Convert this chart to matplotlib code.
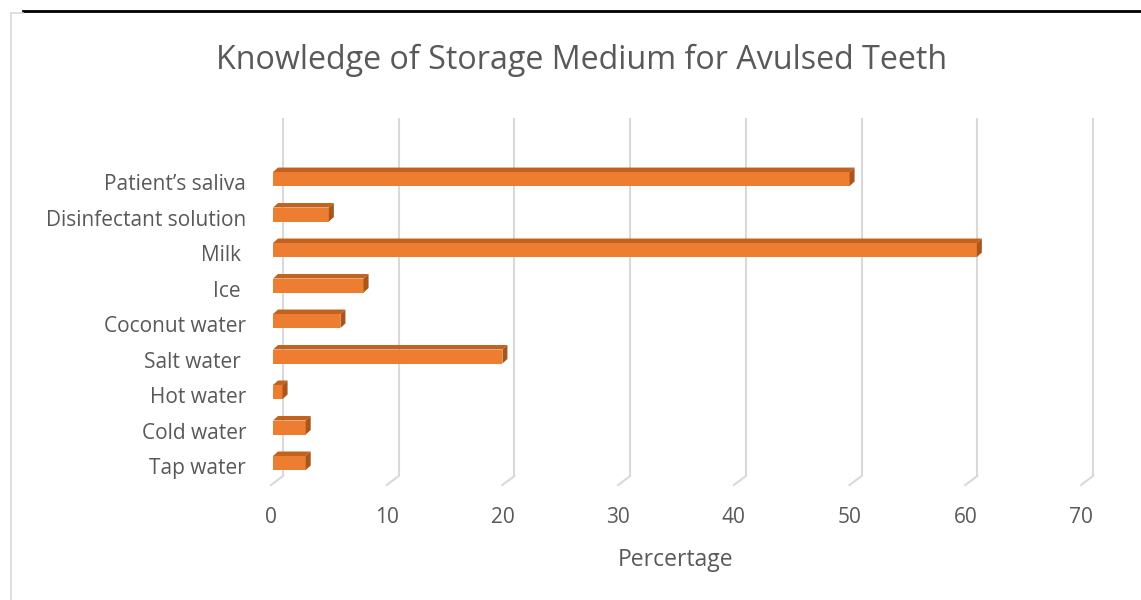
import matplotlib
matplotlib.use("Agg")
import matplotlib.pyplot as plt
from matplotlib.patches import Polygon
from matplotlib.lines import Line2D
import matplotlib.transforms as mtransforms

# ============================================
# DATA
# ============================================
categories = ["Tap water", "Cold water", "Hot water", "Salt water ", "Coconut water",
              "Ice ", "Milk ", "Disinfectant solution", "Patient\u2019s saliva"]
values = [3, 3, 1, 20, 6, 8, 61, 5, 50]
x_ticks = [0, 10, 20, 30, 40, 50, 60, 70]

title = "Knowledge of Storage Medium for Avulsed Teeth"
x_title = "Percertage"

# ============================================
# STYLE
# ============================================
plt.rcParams['font.family'] = ['Open Sans', 'DejaVu Sans']
TEXT = '#595959'
GRID = '#d9d9d9'
FRONT = '#ED7D31'
TOP = '#C2621F'
SIDE = '#A9551C'

W, H, DPI = 1141, 600, 100
fig = plt.figure(figsize=(W / DPI, H / DPI), dpi=DPI)
fig.patch.set_facecolor('white')

# plot area in pixels (front plane)
left_px, right_px, bottom_px, top_px = 271, 1081, 485, 118
ax = fig.add_axes([left_px / W, 1 - bottom_px / H,
                   (right_px - left_px) / W, (bottom_px - top_px) / H])
ax.set_xlim(0, 70)
ax.set_ylim(-0.62, 9.72)
for s in ax.spines.values():
    s.set_visible(False)
ax.set_facecolor('none')

# pixel -> data unit conversion
px_x = 70 / (right_px - left_px)
px_y = (9.72 + 0.62) / (bottom_px - top_px)

# back wall gridlines with a floor diagonal
wall_dx, wall_dy = 12 * px_x, 9 * px_y
y0, y1 = ax.get_ylim()
for t in x_ticks:
    ax.plot([t + wall_dx, t + wall_dx], [y0 + wall_dy, y1], color=GRID, lw=1.5,
            zorder=1, solid_capstyle='butt', clip_on=False)
    ax.plot([t, t + wall_dx], [y0, y0 + wall_dy], color=GRID, lw=1.5, zorder=1,
            clip_on=False)

# 3D bars
bar_h = 14 * px_y
dx, dy = 5 * px_x, 4.5 * px_y
x_start = 2 * px_x
for i, v in enumerate(values):
    ax.barh(i, v - x_start, left=x_start, height=bar_h, color=FRONT, zorder=3)
    yt = i + bar_h / 2
    yb = i - bar_h / 2
    ax.add_patch(Polygon([(x_start, yt), (v, yt), (v + dx, yt + dy), (x_start + dx, yt + dy)],
                         closed=True, facecolor=TOP, edgecolor='none', zorder=3))
    ax.add_patch(Polygon([(v, yb), (v, yt), (v + dx, yt + dy), (v + dx, yb + dy)],
                         closed=True, facecolor=SIDE, edgecolor='none', zorder=3))

ax.set_xticks(x_ticks)
ax.set_xticklabels([str(t) for t in x_ticks])
ax.set_yticks(range(len(categories)))
ax.set_yticklabels(categories)
ax.tick_params(axis='both', length=0, colors=TEXT, labelsize=15)
ax.tick_params(axis='y', pad=18)
ax.tick_params(axis='x', pad=16)
shift = mtransforms.ScaledTranslation(0, -3 / DPI, fig.dpi_scale_trans)
for lab in ax.get_yticklabels():
    lab.set_transform(lab.get_transform() + shift)

ax.set_xlabel(x_title, fontsize=16.5, color=TEXT, labelpad=14)

fig.text(582 / W, 1 - 60 / H, title, ha='center', va='center', fontsize=23.2, color=TEXT)

# document frame lines
fig.add_artist(Line2D([23 / W, 1], [1 - 11 / H, 1 - 11 / H], color='black', lw=2,
                      transform=fig.transFigure))
fig.add_artist(Line2D([11 / W, 11 / W], [0, 1 - 13 / H], color=GRID, lw=1.2,
                      transform=fig.transFigure))
fig.add_artist(Line2D([11 / W, 23 / W], [1 - 13 / H, 1 - 13 / H], color=GRID, lw=1.2,
                      transform=fig.transFigure))

fig.savefig('out.png', dpi=DPI, facecolor='white')
